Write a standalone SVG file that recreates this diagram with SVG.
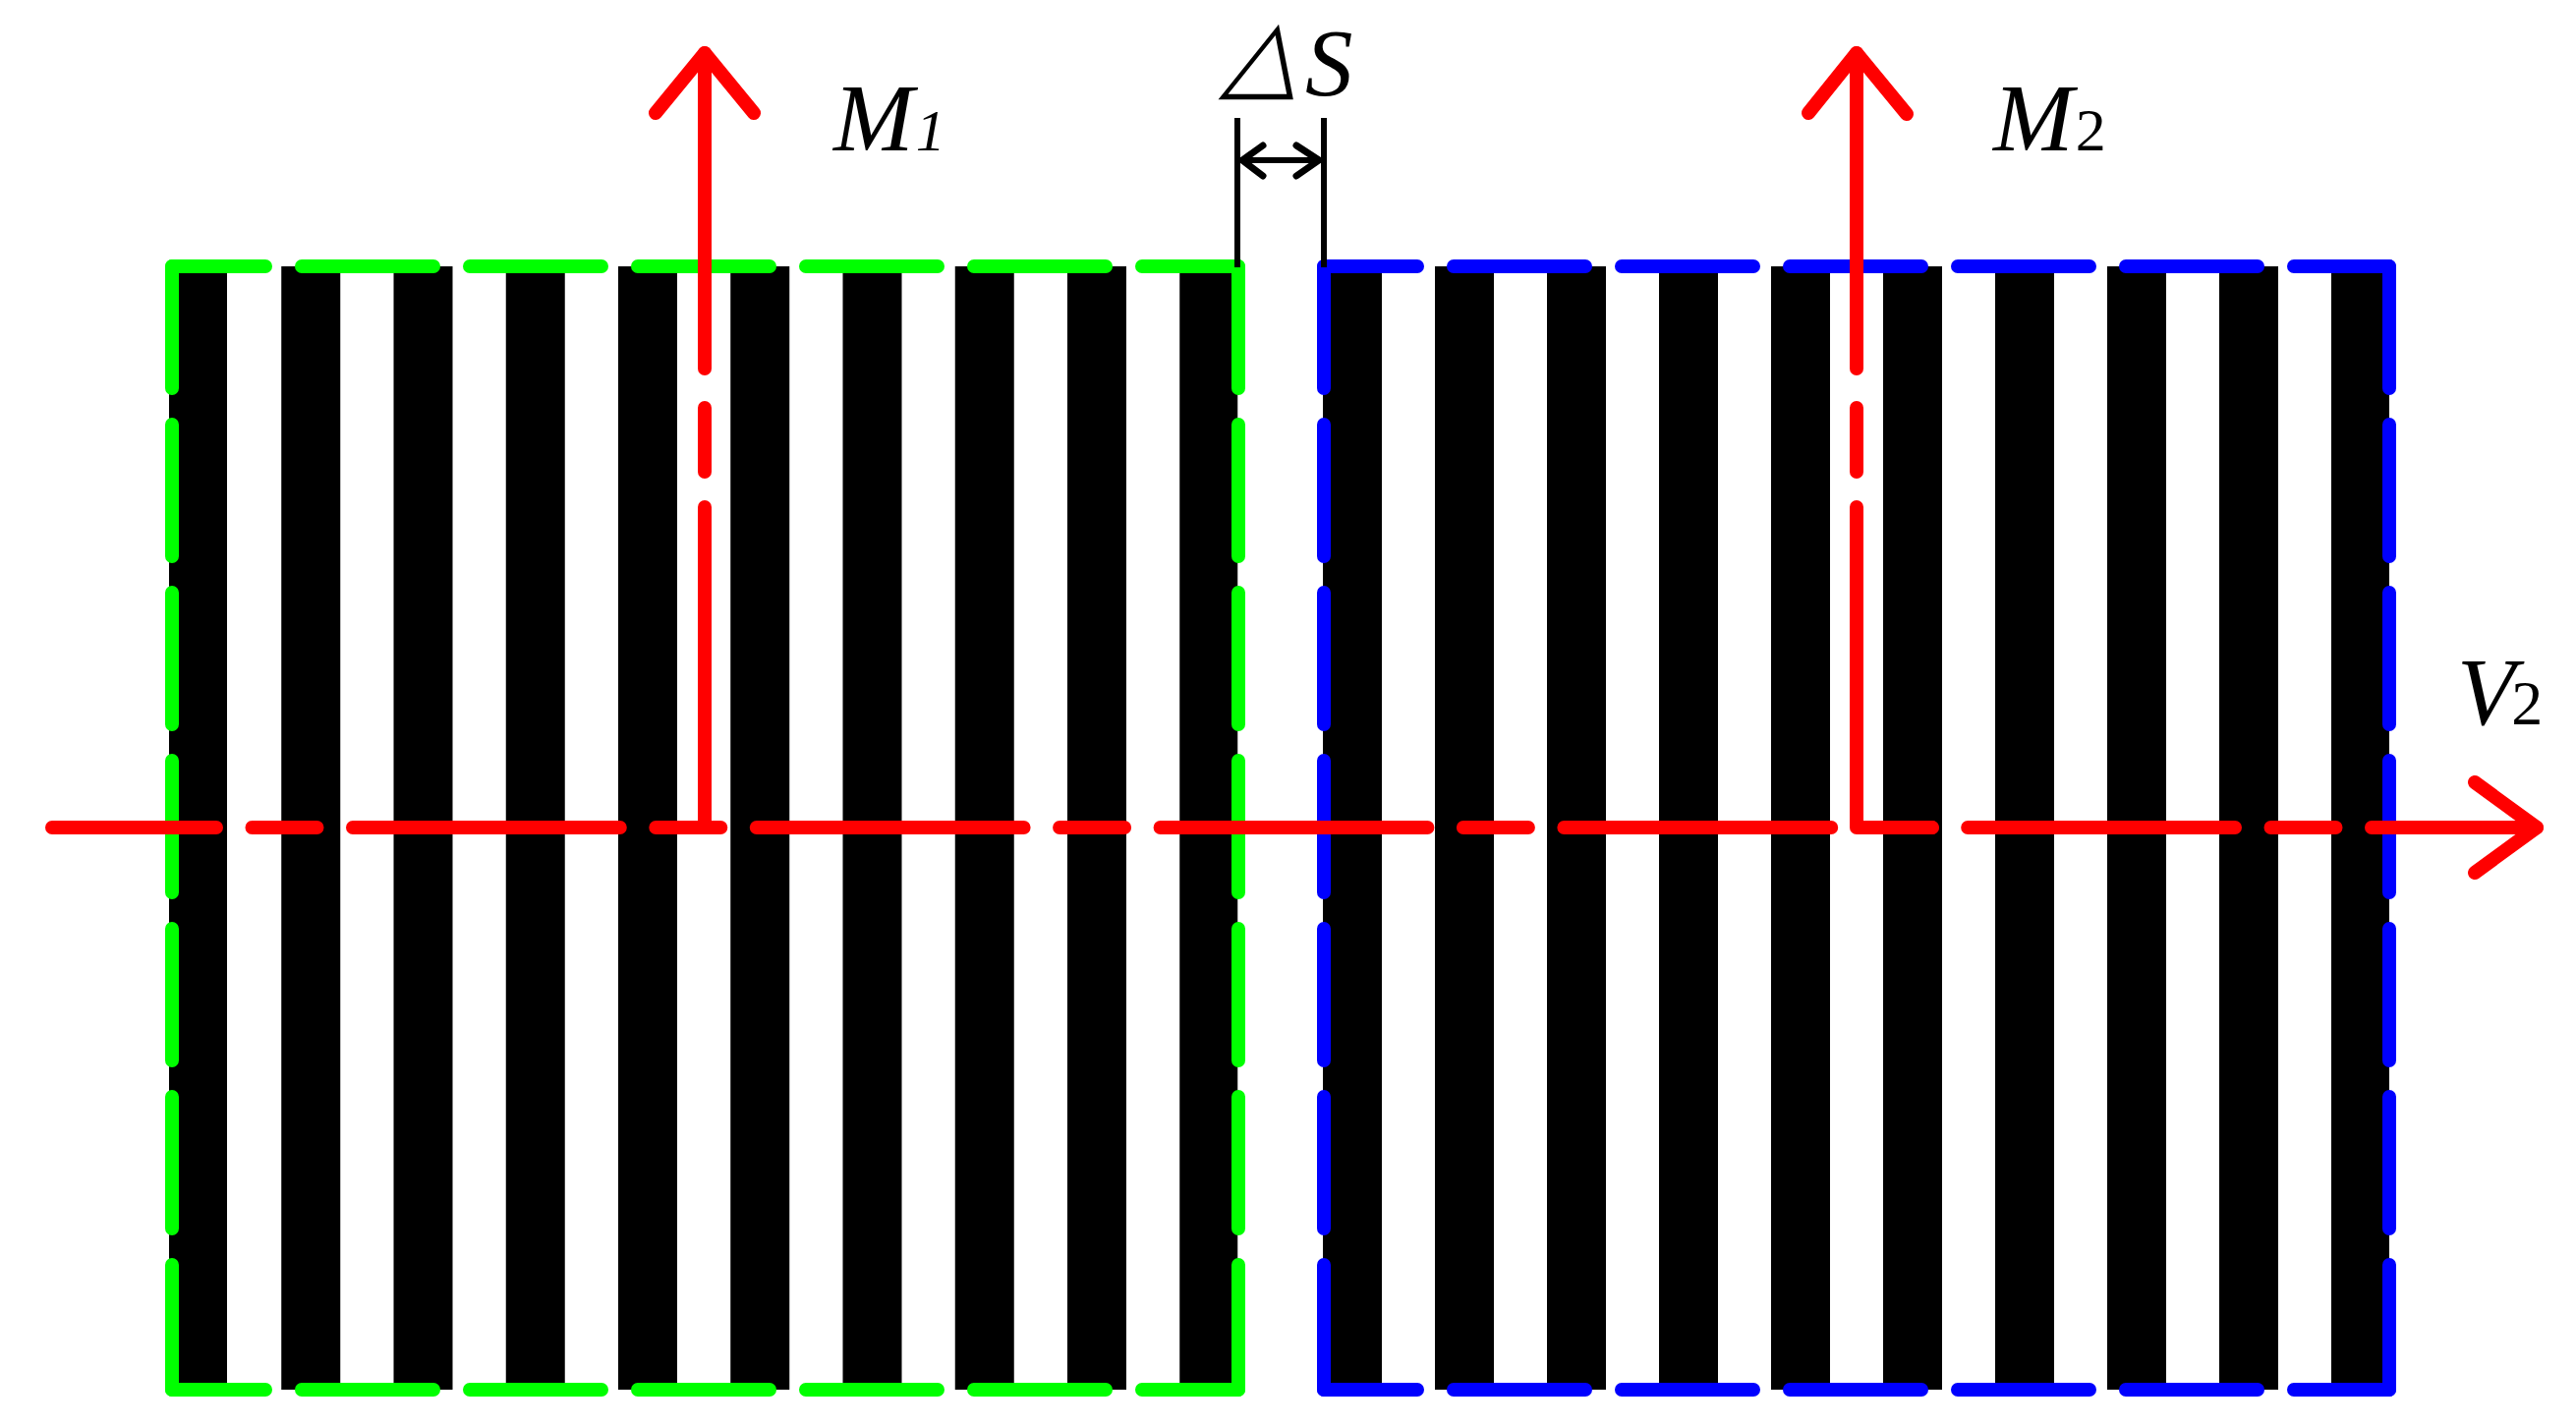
<svg xmlns="http://www.w3.org/2000/svg" width="2621" height="1453" viewBox="0 0 2621 1453">
  <style>
    .bar { fill: #000000; }
    .edge { fill: none; stroke-width: 14; stroke-linecap: round; stroke-dasharray: 134 37; }
    .h { stroke-dashoffset: 39; }
    .v { stroke-dashoffset: 10; }
    .green { stroke: #00ff00; }
    .blue { stroke: #0000ff; }
    .red { fill: none; stroke: #ff0000; stroke-width: 14; stroke-linecap: round; stroke-linejoin: round; }
    .dim { fill: none; stroke: #000000; stroke-width: 6; stroke-linecap: butt; }
    .head { fill: none; stroke: #000000; stroke-width: 7; stroke-linecap: round; stroke-linejoin: round; }
    .lbl { font-family: "Liberation Serif", "Times New Roman", serif; fill: #000000; }
  </style>
  <rect x="0" y="0" width="2621" height="1453" fill="#ffffff"/>

  <g id="grating-m1">
    <g class="bar">
      <rect x="172" y="271" width="59" height="1143"/>
      <rect x="286.25" y="271" width="60" height="1143"/>
      <rect x="400.5" y="271" width="60" height="1143"/>
      <rect x="514.75" y="271" width="60" height="1143"/>
      <rect x="629" y="271" width="60" height="1143"/>
      <rect x="743.25" y="271" width="60" height="1143"/>
      <rect x="857.5" y="271" width="60" height="1143"/>
      <rect x="971.75" y="271" width="60" height="1143"/>
      <rect x="1086" y="271" width="60" height="1143"/>
      <rect x="1200.25" y="271" width="59" height="1143"/>
    </g>
    <line class="edge green h" x1="175" y1="271" x2="1260" y2="271"/>
    <line class="edge green h" x1="175" y1="1414" x2="1260" y2="1414"/>
    <line class="edge green v" x1="175" y1="271" x2="175" y2="1414"/>
    <line class="edge green v" x1="1260" y1="271" x2="1260" y2="1414"/>
  </g>

  <g id="grating-m2">
    <g class="bar">
      <rect x="1346" y="271" width="60" height="1143"/>
      <rect x="1460" y="271" width="60" height="1143"/>
      <rect x="1574" y="271" width="60" height="1143"/>
      <rect x="1688" y="271" width="60" height="1143"/>
      <rect x="1802" y="271" width="60" height="1143"/>
      <rect x="1916" y="271" width="60" height="1143"/>
      <rect x="2030" y="271" width="60" height="1143"/>
      <rect x="2144" y="271" width="60" height="1143"/>
      <rect x="2258" y="271" width="60" height="1143"/>
      <rect x="2372" y="271" width="59" height="1143"/>
    </g>
    <line class="edge blue h" x1="1347" y1="271" x2="2431" y2="271"/>
    <line class="edge blue h" x1="1347" y1="1414" x2="2431" y2="1414"/>
    <line class="edge blue v" x1="1347" y1="271" x2="1347" y2="1414"/>
    <line class="edge blue v" x1="2431" y1="271" x2="2431" y2="1414"/>
  </g>

  <g id="connectors">
    <g id="axis-v2">
      <line class="red" x1="53" y1="842" x2="2581" y2="842" stroke-dasharray="271.8 36.5 66 36.5" stroke-dashoffset="104.8"/>
      <polyline class="red" points="2518,796 2581,842 2518,888"/>
    </g>
    <g id="axis-m1">
      <line class="red" x1="717" y1="54" x2="717" y2="375"/>
      <line class="red" x1="717" y1="415" x2="717" y2="480"/>
      <line class="red" x1="717" y1="516" x2="717" y2="842"/>
      <polyline class="red" points="667,115 717,54 767,115"/>
    </g>
    <g id="axis-m2">
      <line class="red" x1="1889" y1="54" x2="1889" y2="375"/>
      <line class="red" x1="1889" y1="415" x2="1889" y2="480"/>
      <polyline class="red" points="1889,516 1889,842 1966,842"/>
      <polyline class="red" points="1840,115 1889,54 1940,116"/>
    </g>
    <g id="gap-dimension">
      <line class="dim" x1="1259" y1="120" x2="1259" y2="272"/>
      <line class="dim" x1="1347" y1="120" x2="1347" y2="272"/>
      <line class="dim" x1="1263" y1="163" x2="1343" y2="163" stroke-width="5"/>
      <polyline class="head" points="1285,148 1264,163 1285,179"/>
      <polyline class="head" points="1319,148 1342,163 1319,179"/>
    </g>
  </g>

  <g id="labels">
    <text class="lbl" x="848" y="153" font-size="98" font-style="italic">M<tspan font-size="60" dx="2">1</tspan></text>
    <text class="lbl" x="2028" y="153" font-size="98" font-style="italic">M<tspan font-size="62" font-style="normal" dx="2">2</tspan></text>
    <text class="lbl" x="2500" y="737" font-size="97" font-style="italic">V<tspan font-size="64" font-style="normal" dx="-4">2</tspan></text>
    <g id="label-delta-s">
      <text transform="translate(1243,89) skewX(-17)" x="0" y="0" font-family="'DejaVu Sans', sans-serif" font-size="100" fill="#000000">△</text>
      <text class="lbl" x="1328" y="97" font-size="97" font-style="italic">S</text>
    </g>
  </g>
</svg>
